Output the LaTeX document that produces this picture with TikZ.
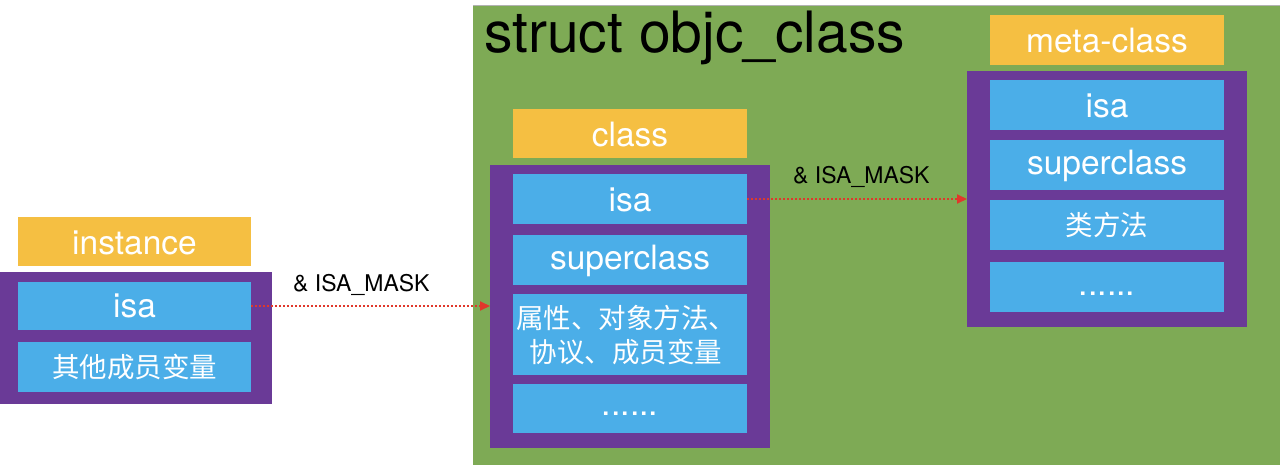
\documentclass[tikz,border=0pt]{standalone}
\usepackage{fontspec}
\setmainfont{TeX Gyre Heros}
\newfontfamily\cjk{Noto Sans CJK SC}
\usetikzlibrary{arrows.meta}
\definecolor{bggreen}{HTML}{7EAA55}
\definecolor{hdr}{HTML}{F5BF42}
\definecolor{outer}{HTML}{6A3A97}
\definecolor{cell}{HTML}{4BAEE8}
\definecolor{arr}{HTML}{E0382B}
\begin{document}
\begin{tikzpicture}[x=1pt,y=-1pt,
  wtxt/.style={text=white,font=\fontsize{33.5}{36}\selectfont},
  ctxt/.style={text=white,font=\cjk\fontsize{27.5}{36}\selectfont,align=center},
  dtxt/.style={text=white,font=\fontsize{34}{36}\selectfont},
  lbl/.style={font=\fontsize{23}{25}\selectfont,text=black},
  ptr/.style={draw=arr,line width=2pt,dotted,-{Triangle[length=10pt,width=9pt,fill=arr]}}]
\useasboundingbox (0,0) rectangle (1280,465);
% green struct area
\fill[bggreen] (473,6) rectangle (1280,465);
\draw[gray!60,line width=1pt] (473,6) -- (1280,6);
\node[anchor=base west,font=\fontsize{57}{60}\selectfont,inner sep=0] (title) at (484,53) {struct objc\_class};

% instance
\fill[hdr] (18,217) rectangle (251,266);
\node[wtxt] (insthdr) at (134.5,243) {instance};
\fill[outer] (0,272) rectangle (272,404);
\fill[cell] (18,282) rectangle (251,330);
\node[wtxt] (instisa) at (134.5,306) {isa};
\coordinate (instisaE) at (251,306);
\fill[cell] (18,342) rectangle (251,392);
\node[ctxt] (instother) at (134.5,367) {其他成员变量};

% class
\fill[hdr] (513,109) rectangle (747,158);
\node[wtxt] (clshdr) at (630,135) {class};
\fill[outer] (490,165) rectangle (770,448);
\coordinate (clsW) at (490,306);
\fill[cell] (513,174) rectangle (747,224);
\node[wtxt] (clsisa) at (630,200) {isa};
\coordinate (clsisaE) at (747,199);
\fill[cell] (513,235) rectangle (747,285);
\node[wtxt] (clssuper) at (630,261) {superclass};
\fill[cell] (513,294) rectangle (747,375);
\node[ctxt,font=\cjk\fontsize{27.5}{34}\selectfont] (clsprops) at (626,335) {属性、对象方法、\\协议、成员变量};
\fill[cell] (513,384) rectangle (747,433);
\node[dtxt] (clsdots) at (630,414) {......};

% meta-class
\fill[hdr] (990,15) rectangle (1224,65);
\node[wtxt] (metahdr) at (1107,41) {meta-class};
\fill[outer] (967,71) rectangle (1247,327);
\coordinate (metaW) at (967,199);
\fill[cell] (990,80) rectangle (1224,130);
\node[wtxt] (metaisa) at (1107,106) {isa};
\fill[cell] (990,140) rectangle (1224,190);
\node[wtxt] (metasuper) at (1107,166) {superclass};
\fill[cell] (990,200) rectangle (1224,250);
\node[ctxt] (metamethods) at (1107,225) {类方法};
\fill[cell] (990,262) rectangle (1224,312);
\node[dtxt] (metadots) at (1107,294) {......};

% arrows
\draw[ptr] (instisaE) -- (clsW);
\node[lbl,anchor=base west,inner sep=0] (lbl1) at (293,291) {\& ISA\_MASK};
\draw[ptr] (clsisaE) -- (metaW);
\node[lbl,anchor=base west,inner sep=0] (lbl2) at (793,184) {\& ISA\_MASK};
\end{tikzpicture}
\end{document}
